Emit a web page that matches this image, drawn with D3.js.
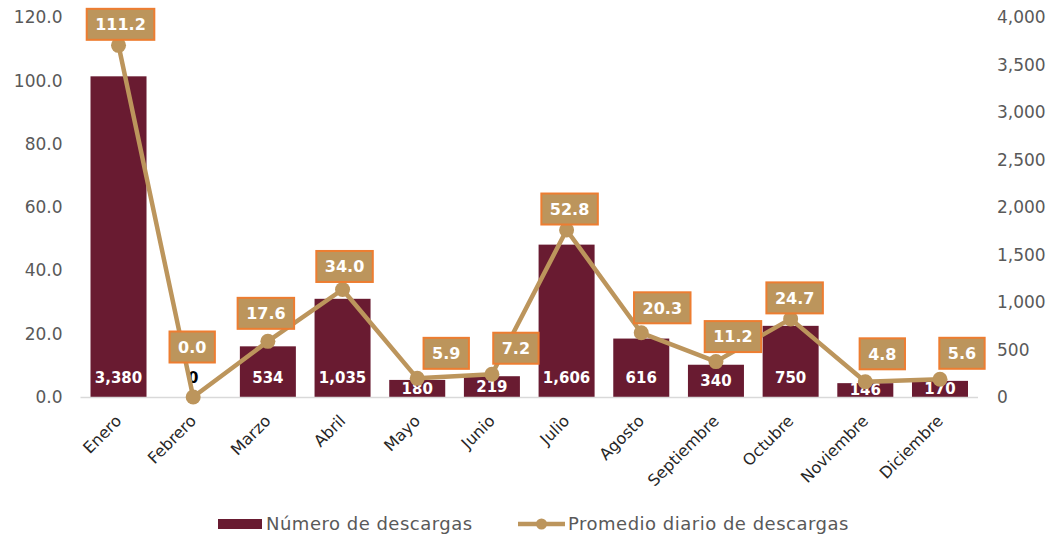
<!DOCTYPE html>
<html>
<head>
<meta charset="utf-8">
<script src="https://cdn.jsdelivr.net/npm/d3@7"></script>
<style>
  html, body { margin: 0; padding: 0; background: #fff; }
  svg { display: block; font-family: "DejaVu Sans", sans-serif; }
</style>
</head>
<body>
<svg id="chart" width="1057" height="537"></svg>
<script>
// Monthly downloads and daily average
const months = ["Enero", "Febrero", "Marzo", "Abril", "Mayo", "Junio", "Julio", "Agosto", "Septiembre", "Octubre", "Noviembre", "Diciembre"];
const downloads = [3380, 0, 534, 1035, 180, 219, 1606, 616, 340, 750, 146, 170];
const dailyAvg = [111.2, 0.0, 17.6, 34.0, 5.9, 7.2, 52.8, 20.3, 11.2, 24.7, 4.8, 5.6];
const leftTicks = [0, 20, 40, 60, 80, 100, 120];
const rightTicks = [0, 500, 1000, 1500, 2000, 2500, 3000, 3500, 4000];
const seriesNames = ["Número de descargas", "Promedio diario de descargas"];

// Hand-placed offsets of the average labels relative to their points (px)
const avgLabelDx = [2, -1, -2, 2, 29, 24, 3, 21, 17, 4, 17, 22];
const avgLabelDy = [-21, -50, -28, -23, -25, -26, -21, -25, -25, -21, -28, -26];

const barColor = "#691B31";
const lineColor = "#BC955C";
const boxStroke = "#ED7D31";
const axisText = "#595959";

const svg = d3.select("#chart");
const plotLeft = 80.5, plotRight = 978, plotTop = 17.5, plotBottom = 397;

const x = d3.scaleBand().domain(months).range([plotLeft, plotRight]).paddingInner(0.25).paddingOuter(0.134);
const yL = d3.scaleLinear().domain([0, 120]).range([plotBottom, plotTop]);
const yR = d3.scaleLinear().domain([0, 4000]).range([plotBottom, plotTop]);
const cx = i => x(months[i]) + x.bandwidth() / 2;

// Left axis (daily average)
const axL = svg.append("g").attr("transform", `translate(${plotLeft},0)`)
  .call(d3.axisLeft(yL).tickValues(leftTicks).tickFormat(d3.format(".1f")).tickSize(0).tickPadding(18));
axL.select(".domain").remove();
axL.selectAll("text").attr("fill", axisText).style("font-size", "17px").style("font-family", "DejaVu Sans");

// Right axis (downloads)
const axR = svg.append("g").attr("transform", `translate(${plotRight},0)`)
  .call(d3.axisRight(yR).tickValues(rightTicks).tickFormat(d3.format(",")).tickSize(0).tickPadding(19));
axR.select(".domain").remove();
axR.selectAll("text").attr("fill", axisText).style("font-size", "17px").style("font-family", "DejaVu Sans");

// Bars
svg.append("g").selectAll("rect").data(months).join("rect")
  .attr("x", d => x(d))
  .attr("width", x.bandwidth())
  .attr("y", (d, i) => yR(downloads[i]))
  .attr("height", (d, i) => yR(0) - yR(downloads[i]))
  .attr("fill", barColor);

// Baseline
svg.append("line").attr("x1", plotLeft).attr("x2", plotRight).attr("y1", plotBottom + 0.5).attr("y2", plotBottom + 0.5)
  .attr("stroke", "#d9d9d9").attr("stroke-width", 1.5);

// Bar value labels
svg.append("g").selectAll("text").data(months).join("text")
  .attr("x", (d, i) => cx(i))
  .attr("y", (d, i) => {
    const h = yR(0) - yR(downloads[i]);
    return downloads[i] === 0 ? yR(0) - 19 : yR(0) - Math.min(h / 2, 19);
  })
  .attr("dy", "0.36em")
  .attr("text-anchor", "middle")
  .attr("fill", (d, i) => downloads[i] === 0 ? "#000" : "#fff")
  .style("font-size", "15px").style("font-weight", "bold")
  .text((d, i) => d3.format(",")(downloads[i]));

// Average line
const line = d3.line().x((d, i) => cx(i)).y(d => yL(d));
svg.append("path").datum(dailyAvg).attr("d", line)
  .attr("fill", "none").attr("stroke", lineColor).attr("stroke-width", 4.5).attr("stroke-linejoin", "round");
svg.append("g").selectAll("circle").data(dailyAvg).join("circle")
  .attr("cx", (d, i) => cx(i))
  .attr("cy", d => yL(d))
  .attr("r", 7.5).attr("fill", lineColor);

// Average labels in boxes
const lbl = svg.append("g").selectAll("g").data(dailyAvg).join("g")
  .attr("transform", (d, i) => `translate(${cx(i) + avgLabelDx[i]},${yL(d) + avgLabelDy[i]})`);
const lblRect = lbl.append("rect")
  .attr("fill", lineColor).attr("stroke", boxStroke).attr("stroke-width", 2);
const lblText = lbl.append("text").attr("text-anchor", "middle").attr("dy", "0.36em")
  .attr("fill", "#fff").style("font-size", "16px").style("font-weight", "bold")
  .text(d => d3.format(".1f")(d));
lblText.each(function (d, i) {
  const w = this.getComputedTextLength() + 17;
  d3.select(lblRect.nodes()[i]).attr("x", -w / 2).attr("y", -15.5).attr("width", w).attr("height", 31);
});

// Category labels
svg.append("g").selectAll("text").data(months).join("text")
  .attr("transform", (d, i) => `translate(${cx(i) - 4},${plotBottom + 17}) rotate(-45)`)
  .attr("text-anchor", "end")
  .attr("dy", "0.7em")
  .attr("fill", "#262626")
  .style("font-size", "16px")
  .text(d => d);

// Legend
const lg = svg.append("g").attr("transform", "translate(0,524)");
lg.append("rect").attr("x", 218).attr("y", -5).attr("width", 44).attr("height", 10).attr("fill", barColor);
lg.append("text").attr("x", 266).attr("dy", "0.36em").attr("fill", axisText)
  .style("font-size", "18px").style("letter-spacing", "0.5px").text(seriesNames[0]);
lg.append("line").attr("x1", 518).attr("x2", 565).attr("y1", 0).attr("y2", 0).attr("stroke", lineColor).attr("stroke-width", 4.5);
lg.append("circle").attr("cx", 541.5).attr("cy", 0).attr("r", 5.5).attr("fill", lineColor);
lg.append("text").attr("x", 568).attr("dy", "0.36em").attr("fill", axisText)
  .style("font-size", "18px").style("letter-spacing", "0.5px").text(seriesNames[1]);
</script>
</body>
</html>
